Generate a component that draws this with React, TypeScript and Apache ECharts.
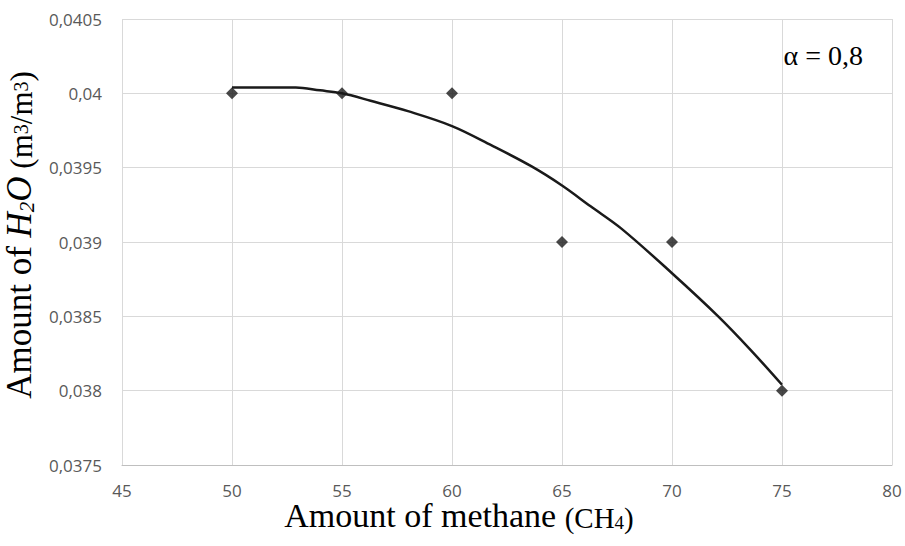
import React, { useEffect, useRef } from "react";
import * as echarts from "echarts";

// Measured data points: amount of methane (CH4) vs amount of H2O
const methane = [50, 55, 60, 65, 70, 75];
const water = [0.04, 0.04, 0.04, 0.039, 0.039, 0.038];

// Trend curve
const trendX = [50, 52.9, 54, 55, 56.3, 58, 60, 61.8, 63.6, 65, 66.3, 67.7, 70, 72.1, 73.6, 75];
const trendY = [
  0.04004, 0.04004, 0.04002, 0.04, 0.03995, 0.03988, 0.03978, 0.03965, 0.03951,
  0.03938, 0.03924, 0.03909, 0.03879, 0.0385, 0.03827, 0.03804,
];

const xTicks = { min: 45, max: 80, interval: 5 };
const yTicks = { min: 0.0375, max: 0.0405, interval: 0.0005 };

const alphaLabel = "α = 0,8";

const serif = "'Liberation Serif', 'Times New Roman', serif";
const sans = "'Open Sans', 'Noto Sans', sans-serif";

export default function App() {
  const ref = useRef<HTMLDivElement>(null);

  useEffect(() => {
    if (!ref.current) return;
    const chart = echarts.init(ref.current, undefined, { renderer: "svg" });

    const fmt = (v: number) => String(+v.toFixed(5)).replace(".", ",");

    const mk = (fontSize: number, lineHeight: number, verticalAlign: string, italic = false) => ({
      fontFamily: serif,
      fontSize,
      lineHeight,
      verticalAlign,
      fontStyle: italic ? "italic" : "normal",
      fill: "#000",
    });

    const richX = {
      a: mk(34, 26, "bottom"),
      b: mk(29, 22, "bottom"),
      s: mk(19, 7, "bottom"),
    };
    const richY = {
      a: mk(35, 26, "bottom"),
      i: mk(35, 26, "bottom", true),
      si: mk(21, 7, "bottom", true),
      b: mk(31, 23, "bottom"),
      sup: mk(20, 15, "top"),
    };

    chart.setOption({
      animation: false,
      backgroundColor: "#ffffff",
      grid: { left: 122, right: 13, top: 19, bottom: 81 },
      xAxis: {
        type: "value",
        min: xTicks.min,
        max: xTicks.max,
        interval: xTicks.interval,
        axisLine: { show: true, lineStyle: { color: "#bfbfbf", width: 1 } },
        axisTick: { show: false },
        axisLabel: { color: "#595959", fontFamily: sans, fontSize: 17, margin: 17 },
        splitLine: { show: true, lineStyle: { color: "#d9d9d9", width: 1 } },
      },
      yAxis: {
        type: "value",
        min: yTicks.min,
        max: yTicks.max,
        interval: yTicks.interval,
        axisLine: { show: false },
        axisTick: { show: false },
        axisLabel: { color: "#595959", fontFamily: sans, fontSize: 17, margin: 20, formatter: fmt },
        splitLine: { show: true, lineStyle: { color: "#d9d9d9", width: 1 } },
      },
      series: [
        {
          type: "scatter",
          data: methane.map((m, i) => [m, water[i]]),
          symbol: "diamond",
          symbolSize: [12, 12],
          itemStyle: { color: "#1a1a1a" },
          z: 2,
        },
        {
          type: "line",
          data: trendX.map((x, i) => [x, trendY[i]]),
          showSymbol: false,
          smooth: 0.35,
          lineStyle: { color: "#1a1a1a", width: 2.5 },
          z: 3,
        },
      ],
      graphic: [
        {
          type: "text",
          x: 459,
          y: 519,
          style: {
            text: "{a|Amount of methane }{b|(CH}{s|4}{b|)}",
            rich: richX,
            align: "center",
            verticalAlign: "middle",
          },
        },
        {
          type: "text",
          x: 24,
          y: 235,
          rotation: Math.PI / 2,
          style: {
            text: "{a|Amount of }{i|H}{si|2}{i|O}{b| (m}{sup|3}{b|/m}{sup|3}{b|)}",
            rich: richY,
            align: "center",
            verticalAlign: "middle",
          },
        },
        {
          type: "text",
          x: 863,
          y: 55,
          style: {
            text: alphaLabel,
            fontFamily: serif,
            fontSize: 28,
            fill: "#000",
            align: "right",
            verticalAlign: "middle",
          },
        },
      ],
    });

    return () => chart.dispose();
  }, []);

  return <div ref={ref} style={{ width: 905, height: 546, position: "absolute", left: 0, top: 0 }} />;
}
